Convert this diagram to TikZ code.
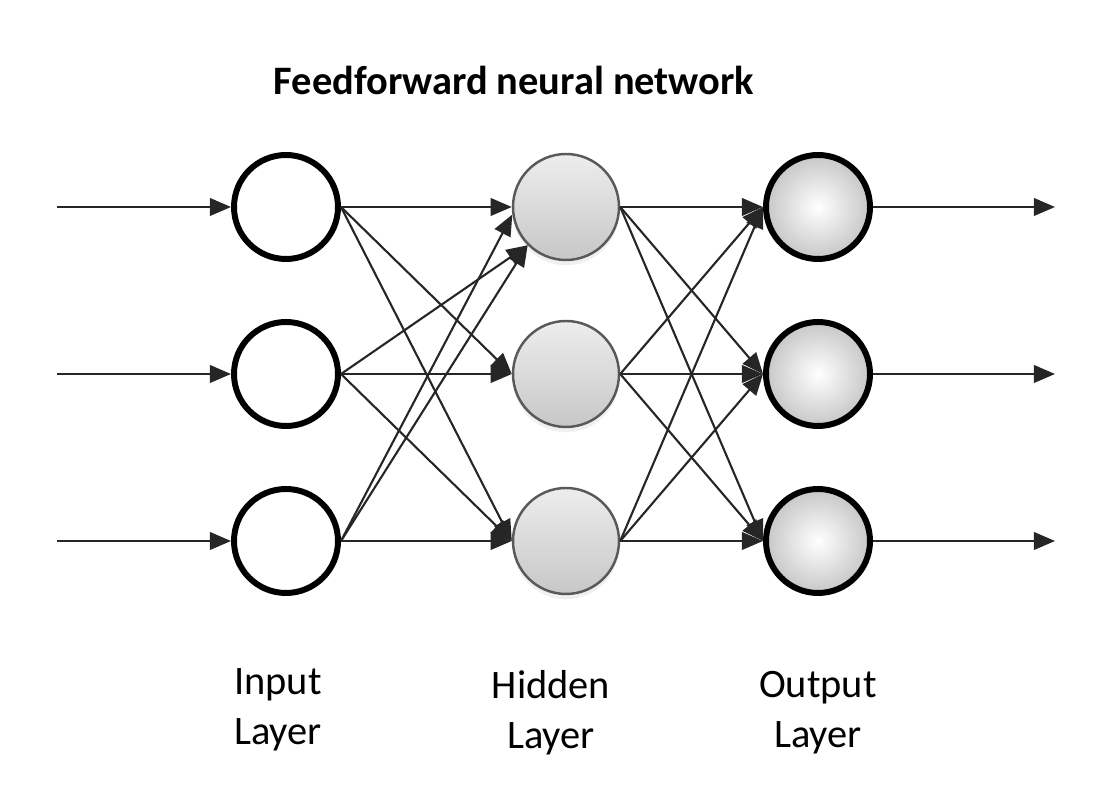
\documentclass[tikz,border=0pt]{standalone}
\usepackage{fontspec}
\setmainfont{Carlito}
\usetikzlibrary{arrows.meta,shadows}
\tikzset{
	inneuron/.style={circle, draw=black, line width=1.7pt, fill=white, minimum size=1.04cm, inner sep=0pt},
	hidneuron/.style={circle, draw=black!65, line width=0.7pt, top color=black!7, bottom color=black!22, minimum size=1.06cm, inner sep=0pt, drop shadow={shadow xshift=0pt, shadow yshift=-1.5pt, opacity=0.12}},
	outneuron/.style={circle, draw=black, line width=1.7pt, inner color=white, outer color=black!22, minimum size=1.04cm, inner sep=0pt},
	link/.style={-{Triangle[length=6pt,width=5pt]}, line width=0.6pt, draw=black!85},
	layerlabel/.style={align=center, font=\fontsize{11.5}{14.2}\selectfont}
}
\begin{document}
\begin{tikzpicture}
				\useasboundingbox (0,0) rectangle (11.2,8);

				\node[font=\fontsize{11.5}{14}\selectfont\bfseries] (title) at (5.14, 7.2) {Feedforward neural network};

				\node[inneuron] (i1) at (2.86, 5.93) {};
				\node[inneuron] (i2) at (2.86, 4.26) {};
				\node[inneuron] (i3) at (2.86, 2.59) {};

				\node[hidneuron] (h1) at (5.66, 5.93) {};
				\node[hidneuron] (h2) at (5.66, 4.26) {};
				\node[hidneuron] (h3) at (5.66, 2.59) {};

				\node[outneuron] (o1) at (8.18, 5.93) {};
				\node[outneuron] (o2) at (8.18, 4.26) {};
				\node[outneuron] (o3) at (8.18, 2.59) {};

				\coordinate (x1) at (0.57, 5.93);
				\coordinate (x2) at (0.57, 4.26);
				\coordinate (x3) at (0.57, 2.59);
				\coordinate (y1) at (10.55, 5.93);
				\coordinate (y2) at (10.55, 4.26);
				\coordinate (y3) at (10.55, 2.59);

				\draw[link] (x1) -- (i1.west);
				\draw[link] (x2) -- (i2.west);
				\draw[link] (x3) -- (i3.west);

				\draw[link] (i1.east) -- (h1.west);
				\draw[link] (i1.east) -- (h2.west);
				\draw[link] (i1.east) -- (h3.west);
				\draw[link] (i2.east) -- (h1.225);
				\draw[link] (i2.east) -- (h2.west);
				\draw[link] (i2.east) -- (h3.west);
				\draw[link] (i3.east) -- (h1.188);
				\draw[link] (i3.east) -- (h1.225);
				\draw[link] (i3.east) -- (h3.west);

				\draw[link] (h1.east) -- (o1.west);
				\draw[link] (h1.east) -- (o2.west);
				\draw[link] (h1.east) -- (o3.west);
				\draw[link] (h2.east) -- (o1.west);
				\draw[link] (h2.east) -- (o2.west);
				\draw[link] (h2.east) -- (o3.west);
				\draw[link] (h3.east) -- (o1.west);
				\draw[link] (h3.east) -- (o2.west);
				\draw[link] (h3.east) -- (o3.west);

				\draw[link] (o1.east) -- (y1);
				\draw[link] (o2.east) -- (y2);
				\draw[link] (o3.east) -- (y3);

				\node[layerlabel] (inlabel) at (2.78, 0.9) {Input\\Layer};
				\node[layerlabel] (hidlabel) at (5.51, 0.87) {Hidden\\Layer};
				\node[layerlabel] (outlabel) at (8.18, 0.87) {Output\\Layer};
			\end{tikzpicture}
\end{document}
